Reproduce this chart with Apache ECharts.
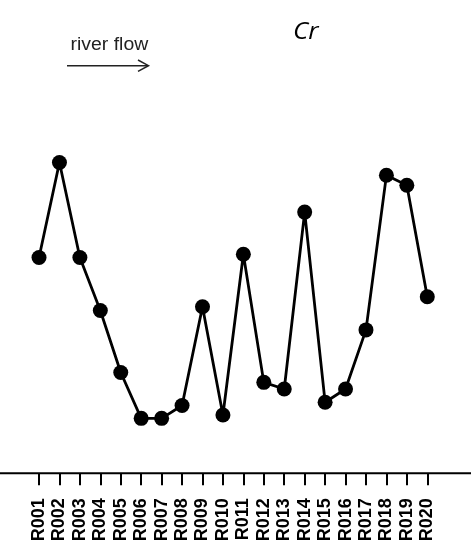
<!DOCTYPE html>
<html>
<head>
<meta charset="utf-8">
<script src="https://cdn.jsdelivr.net/npm/echarts@6/dist/echarts.min.js"></script>
<style>html,body{margin:0;padding:0;background:#fff}#c{width:471px;height:555px}</style>
</head>
<body>
<div id="c"></div>
<script>
var categories = ['R001','R002','R003','R004','R005','R006','R007','R008','R009','R010',
                  'R011','R012','R013','R014','R015','R016','R017','R018','R019','R020'];
var crValues = [52.2, 75.2, 52.2, 39.4, 24.4, 13.3, 13.3, 16.4, 40.3, 14.1,
                53.0, 22.0, 20.4, 63.2, 17.2, 20.4, 34.7, 72.1, 69.7, 42.7];
var titleText = 'Cr';
var flowText = 'river flow';

var chart = echarts.init(document.getElementById('c'), null, {renderer: 'canvas'});
chart.setOption({
  animation: false,
  backgroundColor: '#fff',
  grid: {left: 28.8, right: 33.5, top: 60, bottom: 81.7},
  xAxis: {
    type: 'category',
    data: categories,
    boundaryGap: true,
    axisLine: {show: false},
    axisTick: {show: true, alignWithLabel: true, length: 12, lineStyle: {color: '#000', width: 2}},
    axisLabel: {rotate: 90, margin: 25, color: '#000', fontFamily: 'Liberation Sans', fontWeight: 'bold', fontSize: 18, interval: 0},
    splitLine: {show: false}
  },
  yAxis: {
    type: 'value', min: 0, max: 100, show: false
  },
  series: [{
    type: 'line',
    data: crValues,
    symbol: 'circle',
    symbolSize: 15,
    lineStyle: {color: '#000', width: 2.8},
    itemStyle: {color: '#000'}
  }],
  graphic: [
    {type: 'line', shape: {x1: 0, y1: 473.3, x2: 471, y2: 473.3}, style: {stroke: '#000', lineWidth: 2}, z: 10},
    {type: 'text', x: 293, y: 20, scaleX: 1.08, style: {text: titleText, fontFamily: 'Open Sans', fontStyle: 'italic', fontSize: 24, fill: '#000'}},
    {type: 'text', x: 70.5, y: 36, scaleX: 1.08, style: {text: flowText, fontFamily: 'Liberation Sans', fontSize: 18, fill: '#222'}},
    {type: 'polyline', shape: {points: [[67, 65.7], [148, 65.7]]}, style: {stroke: '#222', lineWidth: 1.5, fill: null}},
    {type: 'polyline', shape: {points: [[138, 60], [148.5, 65.7], [138, 71.4]]}, style: {stroke: '#222', lineWidth: 1.5, fill: null}}
  ]
});
</script>
</body>
</html>
